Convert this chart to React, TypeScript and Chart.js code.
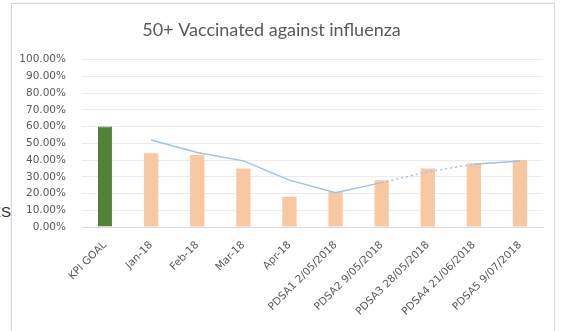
import React, { useEffect, useRef } from "react";
import { Chart, registerables } from "chart.js";

Chart.register(...registerables);

const categories = [
  "KPI GOAL",
  "Jan-18",
  "Feb-18",
  "Mar-18",
  "Apr-18",
  "PDSA1 2/05/2018",
  "PDSA2 9/05/2018",
  "PDSA3 28/05/2018",
  "PDSA4 21/06/2018",
  "PDSA5 9/07/2018",
];

// Percent vaccinated per period; the first entry is the KPI goal
const vaccinated = [60, 44, 43, 35, 18, 21, 28, 35, 38, 40];

// Trend line across the monthly and PDSA periods
const trend = [null, 52, 44.5, 39.5, 28, 20.5, 26.5, 33, 37.5, 39.5];

const yTicks = [0, 10, 20, 30, 40, 50, 60, 70, 80, 90, 100];

const GOAL_COLOR = "#548235";
const BAR_COLOR = "#F8C8A2";
const TREND_COLOR = "#9DC3E6";
const TEXT_COLOR = "#595959";
const TITLE_FONT = "Lato, 'Open Sans', sans-serif";
const TICK_FONT = "'DejaVu Sans', Verdana, sans-serif";

export default function App() {
  const canvasRef = useRef<HTMLCanvasElement | null>(null);

  useEffect(() => {
    const canvas = canvasRef.current;
    if (!canvas) return;
    const chart = new Chart(canvas, {
      type: "bar",
      data: {
        labels: categories,
        datasets: [
          {
            type: "line",
            label: "Trend",
            data: trend,
            borderColor: TREND_COLOR,
            borderWidth: 1.5,
            pointRadius: 0,
            fill: false,
            tension: 0,
            spanGaps: false,
            segment: {
              borderDash: (ctx: any) =>
                ctx.p0DataIndex >= 6 && ctx.p0DataIndex < 8 ? [2, 3] : undefined,
            },
            order: 0,
          } as any,
          {
            type: "bar",
            label: "Vaccinated",
            data: vaccinated,
            backgroundColor: vaccinated.map((_, i) => (i === 0 ? GOAL_COLOR : BAR_COLOR)),
            borderColor: vaccinated.map((_, i) => (i === 0 ? "#3E6A27" : BAR_COLOR)),
            borderWidth: vaccinated.map((_, i) => (i === 0 ? 1 : 0)),
            categoryPercentage: 1,
            barPercentage: 0.31,
            order: 1,
          },
        ],
      },
      options: {
        animation: false,
        responsive: false,
        maintainAspectRatio: false,
        layout: { padding: { top: 19, right: 18, bottom: 0, left: 0 } },
        plugins: {
          legend: { display: false },
          tooltip: { enabled: false },
          title: {
            display: true,
            text: "50+ Vaccinated against influenza",
            color: TEXT_COLOR,
            font: { family: TITLE_FONT, size: 18, weight: "normal" },
            padding: { top: 0, bottom: 19 },
          },
        },
        scales: {
          x: {
            grid: { display: false },
            border: { color: "#D9D9D9" },
            ticks: {
              color: TEXT_COLOR,
              font: { family: TICK_FONT, size: 10.5 },
              minRotation: 45,
              maxRotation: 45,
              autoSkip: false,
              padding: 4,
            },
            afterFit: (scale: any) => {
              scale.height = 104;
            },
          },
          y: {
            min: 0,
            max: 100,
            afterBuildTicks: (scale: any) => {
              scale.ticks = yTicks.map((v) => ({ value: v }));
            },
            grid: { color: "#EBEBEB", drawTicks: false },
            border: { display: false },
            ticks: {
              color: TEXT_COLOR,
              font: { family: TICK_FONT, size: 10.5 },
              padding: 16,
              callback: (v: any) => Number(v).toFixed(2) + "%",
            },
            afterFit: (scale: any) => {
              scale.width = 82;
            },
          },
        },
      },
    });
    return () => chart.destroy();
  }, []);

  return (
    <div
      style={{
        position: "fixed",
        left: 0,
        top: 0,
        width: 561,
        height: 331,
        background: "#FFFFFF",
        overflow: "hidden",
      }}
    >
      <span
        style={{
          position: "absolute",
          left: -9,
          top: 203,
          fontFamily: "'Liberation Sans', Arial, sans-serif",
          fontSize: 15,
          color: "#333333",
        }}
      >
        ES
      </span>
      <div
        style={{
          position: "absolute",
          left: 11,
          top: 3,
          width: 544,
          height: 330,
          border: "1px solid #D9D9D9",
          boxShadow: "0 0 2px rgba(0,0,0,0.08)",
          boxSizing: "border-box",
        }}
      />
      <canvas
        ref={canvasRef}
        width={561}
        height={331}
        style={{ position: "absolute", left: 0, top: 0, width: 561, height: 331 }}
      />
    </div>
  );
}
